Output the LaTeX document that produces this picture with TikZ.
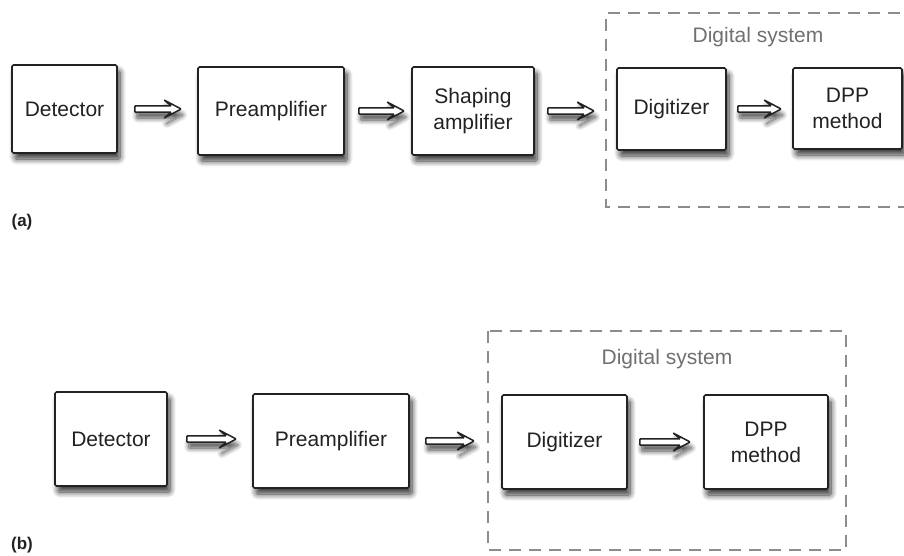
\documentclass[tikz,border=0pt]{standalone}
\usepackage{fontspec}
\setmainfont{Liberation Sans}
\usetikzlibrary{calc,shadows.blur}
\definecolor{ink}{HTML}{222222}
\definecolor{dash}{HTML}{8C8C8C}
\definecolor{sysgray}{HTML}{707070}
\tikzset{
  box/.style={draw=ink, line width=1.7pt, rounded corners=1.5pt, fill=white,
    blur shadow={shadow xshift=3pt, shadow yshift=-6pt, shadow blur radius=6pt, shadow opacity=80, shadow blur steps=10},
    text=ink, font=\fontsize{21}{26}\selectfont, align=center, inner sep=0pt},
  sysbox/.style={draw=dash, line width=1.3pt, dash pattern=on 12pt off 8pt},
  systext/.style={text=sysgray, font=\fontsize{21}{26}\selectfont, inner sep=0pt},
  panel/.style={text=ink, font=\fontsize{17}{20}\selectfont\bfseries, inner sep=0pt},
  arrowshape/.style={draw=ink, fill=white, line width=1.5pt, rounded corners=0.8pt,
    blur shadow={shadow xshift=2pt, shadow yshift=-6pt, shadow blur radius=5pt, shadow opacity=70, shadow blur steps=10}}
}
\newcommand\hollowarrow[4]{%
  \path[arrowshape] let \p1=(#1.east), \p2=(#2.west) in
    (\x1+#3pt,\y1+3.2pt) -- (\x2-#4pt-10pt,\y1+3.2pt) -- (\x2-#4pt-17pt,\y1+9pt)
    -- (\x2-#4pt,\y1) -- (\x2-#4pt-17pt,\y1-9pt) -- (\x2-#4pt-10pt,\y1-3.2pt)
    -- (\x1+#3pt,\y1-3.2pt) -- cycle;}
\begin{document}
\begin{tikzpicture}[x=1pt,y=-1pt]
\useasboundingbox (0,0) rectangle (904,555);
% ---------------- panel (a)
\draw[sysbox] (920,13) -- (606,13) -- (606,207) -- (920,207);
\node[systext] (sysA) at (758,37) {Digital system};
\node[box, minimum width=105pt, minimum height=88pt] (detA) at (64.5,109) {Detector};
\node[box, minimum width=146pt, minimum height=88pt] (preA) at (271,111) {Preamplifier};
\node[box, minimum width=122pt, minimum height=88pt] (shA) at (473,111) {Shaping\\amplifier};
\node[box, minimum width=109pt, minimum height=82pt] (digA) at (671.5,109) {Digitizer};
\node[box, minimum width=109pt, minimum height=81pt] (dppA) at (847.5,108.5) {DPP\\method};
\hollowarrow{detA}{preA}{17}{16}
\hollowarrow{preA}{shA}{14}{7}
\hollowarrow{shA}{digA}{13}{22}
\hollowarrow{digA}{dppA}{11}{11}
\node[panel] (labA) at (22,222) {(a)};
% ---------------- panel (b)
\draw[sysbox] (488,331) rectangle (846,550);
\node[systext] (sysB) at (667,359) {Digital system};
\node[box, minimum width=112pt, minimum height=94pt] (detB) at (111,439) {Detector};
\node[box, minimum width=156pt, minimum height=94pt] (preB) at (331,441) {Preamplifier};
\node[box, minimum width=125pt, minimum height=94pt] (digB) at (564.5,442) {Digitizer};
\node[box, minimum width=124pt, minimum height=94pt] (dppB) at (766,442) {DPP\\method};
\hollowarrow{detB}{preB}{19}{16}
\hollowarrow{preB}{digB}{16}{27}
\hollowarrow{digB}{dppB}{12}{13}
\node[panel] (labB) at (22,545) {(b)};
\end{tikzpicture}
\end{document}
